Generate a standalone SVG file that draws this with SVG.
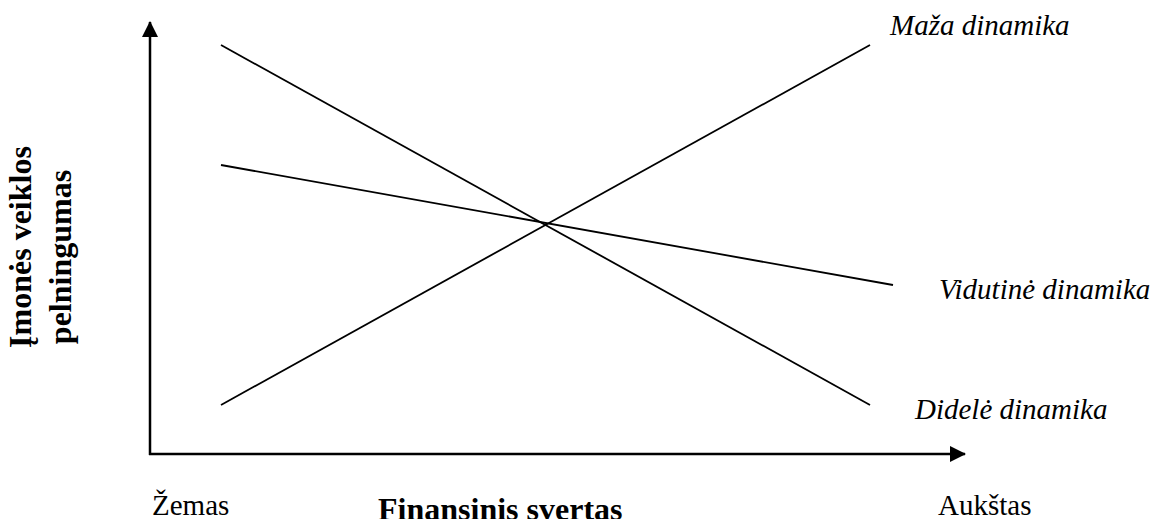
<svg xmlns="http://www.w3.org/2000/svg" width="1156" height="519" viewBox="0 0 1156 519">
  <style>
    .axis { stroke: #000; stroke-width: 2.5; fill: none; }
    .curve { stroke: #000; stroke-width: 1.8; fill: none; }
    .lbl { font-family: "Liberation Serif", "Times New Roman", serif; font-size: 29px; fill: #000; }
    .it { font-style: italic; }
    .bd { font-weight: bold; font-size: 32px; }
  </style>
  <defs>
    <marker id="arrow" viewBox="0 0 16 16" refX="15" refY="8" markerWidth="16" markerHeight="16" markerUnits="userSpaceOnUse" orient="auto">
      <path d="M0,0 L16,8 L0,16 Z" fill="#000"/>
    </marker>
  </defs>

  <!-- axes -->
  <g id="axes">
    <line class="axis" x1="150" y1="455" x2="150" y2="22" marker-end="url(#arrow)"/>
    <line class="axis" x1="149" y1="454" x2="965" y2="454" marker-end="url(#arrow)"/>
  </g>

  <!-- dynamics lines -->
  <g id="connectors">
    <line class="curve" x1="221" y1="45" x2="870" y2="405"/>
    <line class="curve" x1="221" y1="405" x2="870" y2="45"/>
    <line class="curve" x1="221" y1="165" x2="893" y2="285"/>
  </g>

  <g id="label-maza"><text class="lbl it" x="890" y="35">Maža dinamika</text></g>
  <g id="label-vidutine"><text class="lbl it" x="939" y="299">Vidutinė dinamika</text></g>
  <g id="label-didele"><text class="lbl it" x="915" y="419">Didelė dinamika</text></g>

  <g id="label-zemas"><text class="lbl" x="152" y="515">Žemas</text></g>
  <g id="label-x"><text class="lbl bd" x="378" y="520">Finansinis svertas</text></g>
  <g id="label-aukstas"><text class="lbl" x="938" y="515">Aukštas</text></g>

  <g id="label-y">
    <text class="lbl bd" text-anchor="middle" transform="translate(31,247) rotate(-90)">Įmonės veiklos</text>
    <text class="lbl bd" text-anchor="middle" transform="translate(71,257) rotate(-90)">pelningumas</text>
  </g>
</svg>
